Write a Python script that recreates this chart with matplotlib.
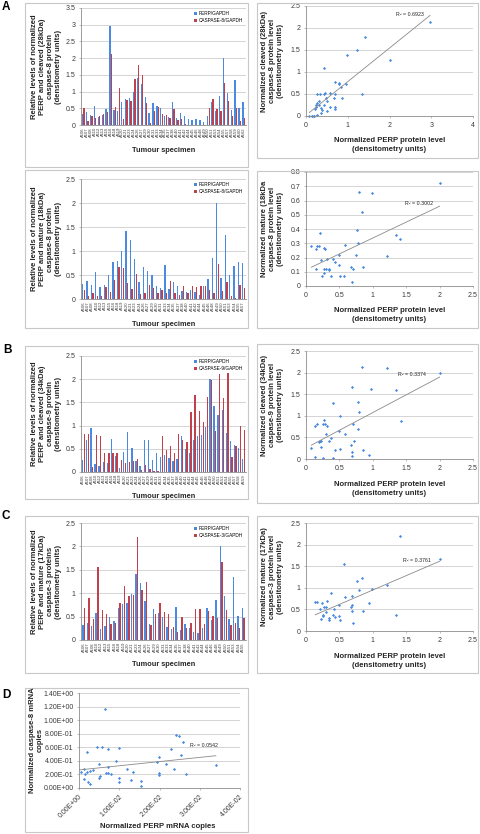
import numpy as np
import matplotlib
matplotlib.use('Agg')
import matplotlib.pyplot as plt
from matplotlib.patches import Rectangle
from matplotlib.ticker import MultipleLocator, FuncFormatter

plt.rcParams['font.family'] = ['Liberation Sans', 'DejaVu Sans']

W, H = 480, 834
BLUE = '#4a8ae0'
RED = '#c0404c'
GRID = '#c4c4c4'
TXT = '#262626'
LBL = 5.5

# ---- data ----
specimens = ['A106', 'A107', 'A108', 'A110', 'A112', 'A113', 'A115', 'A116', 'A118', 'A119',
             'A120', 'A121', 'A123', 'A124', 'A126', 'A127', 'A129', 'A130', 'A131', 'A133',
             'A134', 'A135', 'A137', 'A138', 'A140', 'A141', 'A142', 'A144', 'A145', 'A146',
             'A148', 'A149', 'A150', 'A151', 'A153', 'A154', 'A155', 'A157', 'A158', 'A159',
             'A160', 'A162']

# A (top): PERP vs cleaved 28kDa caspase-8
perp_a1 = [0.33, 0.38, 0.30, 0.57, 0.24, 0.30, 0.49, 2.97, 0.45, 0.42, 0.69, 0.78, 0.80, 0.99,
           1.41, 1.22, 0.84, 0.35, 0.67, 0.58, 0.50, 0.27, 0.23, 0.70, 0.21, 0.35, 0.27, 0.18,
           0.15, 0.19, 0.15, 0.08, 0.27, 0.69, 0.42, 0.86, 2.00, 0.95, 0.44, 1.35, 0.50, 0.70]
casp8_cleaved = [0.50, 0.13, 0.26, 0.21, 0.26, 0.33, 0.40, 2.13, 0.53, 1.10, 0.17, 0.76, 0.72, 1.38,
                 1.79, 1.50, 0.65, 0.06, 0.41, 0.53, 0.33, 0.30, 0.20, 0.49, 0.15, 0.19, 0.03, 0.00,
                 0.00, 0.00, 0.00, 0.00, 0.50, 0.77, 0.49, 0.42, 1.27, 0.72, 0.26, 0.50, 0.12, 0.20]

# A (bottom): PERP vs mature 18kDa caspase-8
perp_a2 = [0.32, 0.37, 0.30, 0.57, 0.24, 0.29, 0.49, 0.77, 0.79, 0.99, 1.41, 1.22, 0.84, 0.35,
           0.67, 0.58, 0.50, 0.27, 0.23, 0.70, 0.21, 0.35, 0.27, 0.17, 0.15, 0.19, 0.15, 0.08,
           0.27, 0.41, 0.85, 2.00, 0.44, 1.34, 0.51, 0.69, 0.78, 0.75]
casp8_mature = [0.19, 0.07, 0.12, 0.07, 0.07, 0.26, 0.15, 0.39, 0.66, 0.65, 0.33, 0.21, 0.52, 0.11,
                0.13, 0.29, 0.22, 0.12, 0.18, 0.12, 0.37, 0.12, 0.09, 0.28, 0.12, 0.28, 0.26, 0.28,
                0.27, 0.19, 0.13, 0.72, 0.17, 0.36, 0.07, 0.03, 0.30, 0.22]

# B: PERP vs cleaved 34kDa caspase-9
perp_b = [0.25, 0.70, 0.95, 0.17, 0.13, 0.21, 0.19, 0.72, 0.35, 0.08, 0.44, 0.86, 0.51, 0.23,
          0.14, 0.69, 0.69, 0.26, 0.41, 0.32, 0.37, 0.30, 0.23, 0.29, 0.78, 0.49, 0.41, 0.69,
          0.78, 0.80, 0.98, 2.00, 1.42, 1.22, 1.34, 0.84, 0.67, 0.58, 0.51, 0.27]
casp9_cleaved = [0.82, 0.82, 0.10, 0.80, 0.77, 0.42, 0.40, 0.41, 0.42, 0.25, 0.20, 0.21, 0.23, 0.27,
                 0.05, 0.16, 0.07, 0.03, 0.02, 0.77, 0.48, 0.57, 0.42, 0.81, 0.69, 0.64, 1.29, 1.66,
                 1.31, 1.08, 1.62, 1.99, 0.88, 2.11, 1.59, 2.13, 0.33, 0.57, 0.99, 0.90]

# C: PERP vs mature 17kDa caspase-3
perp_c = [0.32, 0.37, 0.30, 0.57, 0.24, 0.30, 0.49, 0.41, 0.69, 0.77, 0.79, 0.99, 1.41, 1.22,
          0.84, 0.34, 0.67, 0.58, 0.50, 0.27, 0.23, 0.70, 0.21, 0.34, 0.26, 0.17, 0.14, 0.26,
          0.69, 0.42, 0.85, 2.00, 0.94, 0.44, 1.34, 0.51, 0.69]
casp3_mature = [0.69, 0.89, 0.45, 1.56, 0.65, 0.55, 0.35, 0.37, 0.80, 1.16, 0.95, 0.97, 2.20, 1.07,
                1.23, 0.31, 0.56, 0.78, 0.60, 0.56, 0.27, 0.18, 0.50, 0.25, 0.37, 0.67, 0.67, 0.34,
                0.61, 0.51, 0.47, 1.67, 0.65, 0.33, 0.37, 0.26, 0.47]

# D: mRNA copies
perp_mrna = [0.0004, 0.0013, 0.0015, 0.0013, 0.0019, 0.0020, 0.0023, 0.0028, 0.0028, 0.0036,
             0.0044, 0.0049, 0.0050, 0.0053, 0.0058, 0.0065, 0.0068, 0.0071, 0.0072, 0.0073,
             0.0079, 0.0092, 0.0100, 0.0100, 0.0100, 0.0119, 0.0128, 0.0133, 0.0153, 0.0153,
             0.0194, 0.0198, 0.0198, 0.0198, 0.0217, 0.0228, 0.0236, 0.0242, 0.0249, 0.0253,
             0.0259, 0.0266, 0.0340]
casp8_mrna = [0.230, 0.275, 0.205, 0.130, 0.240, 0.525, 0.090, 0.065, 0.250, 0.265,
              0.600, 0.145, 0.355, 0.170, 0.600, 1.165, 0.215, 0.215, 0.575, 0.310,
              0.210, 0.405, 0.595, 0.150, 0.090, 0.275, 0.120, 0.235, 0.100, 0.025,
              0.380, 0.455, 0.215, 0.195, 0.350, 0.575, 0.280, 0.780, 0.770, 0.480,
              0.685, 0.200, 0.345]

r2_labels = ['R² = 0.6923', 'R² = 0.3002', 'R² = 0.3374', 'R² = 0.3761', 'R² = 0.0542']

fig = plt.figure(figsize=(W / 100, H / 100), dpi=100)


def axes_px(x0, y0, x1, y1):
    return fig.add_axes([x0 / W, 1 - y1 / H, (x1 - x0) / W, (y1 - y0) / H])


def frame(x0, y0, x1, y1):
    fig.patches.append(Rectangle((x0 / W, 1 - y1 / H), (x1 - x0) / W, (y1 - y0) / H,
                                 transform=fig.transFigure, fill=False, ec='#c8c8c8', lw=0.8))


def text_px(x, y, s, **kw):
    kw.setdefault('ha', 'center')
    kw.setdefault('va', 'center')
    fig.text(x / W, 1 - y / H, s, **kw)


def style(ax, ymax, ystep, fmt=lambda v, p: f'{v:g}'):
    ax.set_ylim(0, ymax)
    ax.yaxis.set_major_locator(MultipleLocator(ystep))
    ax.yaxis.set_major_formatter(FuncFormatter(fmt))
    ax.grid(axis='y', color=GRID, lw=0.5)
    ax.set_axisbelow(True)
    for s in ['top', 'right']:
        ax.spines[s].set_visible(False)
    for s in ['left', 'bottom']:
        ax.spines[s].set_color('#8c8c8c')
        ax.spines[s].set_linewidth(0.6)
    ax.tick_params(labelsize=5, labelcolor='#3a3a3a', color='#8c8c8c', length=1.5, width=0.4, pad=2.5)
    ax.patch.set_alpha(0)


def bar_panel(box, perp, casp, casp_name, ymax, ylabel, xlabel_y):
    ax = axes_px(*box)
    x = np.arange(len(perp))
    ax.bar(x - 0.19, perp, width=0.32, color=BLUE, label='PERP/GAPDH')
    ax.bar(x + 0.19, casp, width=0.32, color=RED, label=casp_name)
    ax.set_xlim(-0.6, len(perp) - 0.4)
    style(ax, ymax, 0.5)
    ax.set_xticks(x)
    ax.set_xticklabels(specimens[:len(perp)], rotation=90, fontsize=3.0)
    ax.tick_params(axis='x', length=0, pad=1.5)
    ax.legend(loc='upper right', fontsize=3.4, frameon=False, handlelength=0.5, handleheight=0.5,
              handletextpad=0.4, labelspacing=0.35, borderaxespad=0.3)
    x0, y0, x1, y1 = box
    text_px(46, (y0 + y1) / 2, ylabel, rotation=90, fontsize=LBL, fontweight='bold',
            linespacing=1.2, color=TXT)
    text_px((x0 + x1) / 2, xlabel_y, 'Tumour specimen', fontsize=5.3, fontweight='bold', color=TXT)
    return ax


def scatter_panel(box, x, y, xmax, xstep, ymax, ystep, r2, r2_pos, ylabel, xlabel_y):
    ax = axes_px(*box)
    x = np.asarray(x)
    y = np.asarray(y)
    ax.plot(x, y, 'D', ms=1.6, color=BLUE, mec='none', clip_on=False)
    slope, icpt = np.polyfit(x, y, 1)
    xs = np.array([x.min(), x.max()])
    ax.plot(xs, slope * xs + icpt, color='#8a8a8a', lw=0.6)
    ax.text(r2_pos[0], r2_pos[1], r2, fontsize=3.8, color=TXT)
    ax.set_xlim(0, xmax)
    ax.xaxis.set_major_locator(MultipleLocator(xstep))
    ax.xaxis.set_major_formatter(FuncFormatter(lambda v, p: f'{v:g}'))
    style(ax, ymax, ystep)
    x0, y0, x1, y1 = box
    text_px(272, (y0 + y1) / 2, ylabel, rotation=90, fontsize=LBL, fontweight='bold',
            linespacing=1.2, color=TXT)
    text_px((x0 + x1) / 2, xlabel_y, 'Normalized PERP protein level\n(densitometry units)',
            fontsize=LBL, fontweight='bold', linespacing=1.25, color=TXT)
    return ax


# chart frames
for fr in [(25, 3, 248, 167), (257, 3, 478, 158),
           (25, 170, 248, 328), (257, 171, 478, 328),
           (25, 346, 248, 499), (257, 344, 478, 503),
           (25, 516, 248, 673), (257, 516, 478, 673),
           (25, 688, 248, 832)]:
    frame(*fr)

# panel letters
for letter, (lx, ly) in zip('ABCD', [(6, 7), (7, 350), (6, 516), (6, 695)]):
    text_px(lx, ly, letter, fontsize=8.5, fontweight='bold', color='black')

# A
bar_panel((81, 8, 246, 125), perp_a1, casp8_cleaved, 'CASPASE-8/GAPDH', 3.5,
          'Relative levels of normalized\nPERP and cleaved (28kDa)\ncaspase-8 protein\n(densitometry units)', 150)
scatter_panel((306, 6, 473, 116), perp_a1, casp8_cleaved, 4, 1, 2.5, 0.5, r2_labels[0], (2.15, 2.27),
              'Normalized cleaved (28kDa)\ncaspase-8 protein level\n(densitometry units)', 145)

bar_panel((81, 179, 246, 299), perp_a2, casp8_mature, 'CASPASE-8/GAPDH', 2.5,
          'Relative levels of normalized\nPERP and mature (18kDa)\ncaspase-8 protein\n(densitometry units)', 324)
scatter_panel((306, 172, 473, 286), perp_a2, casp8_mature, 2.5, 0.5, 0.8, 0.1, r2_labels[1], (1.48, 0.57),
              'Normalized mature (18kDa\ncaspase-8 protein level\n(densitometry units)', 315)

# B
bar_panel((81, 356, 246, 472), perp_b, casp9_cleaved, 'CASPASE-9/GAPDH', 2.5,
          'Relative levels of normalized\nPERP and cleaved (34kDa)\ncaspase-9 protein\n(densitometry units)', 497)
scatter_panel((306, 351, 473, 459), perp_b, casp9_cleaved, 2.5, 0.5, 2.5, 0.5, r2_labels[2], (1.38, 1.93),
              'Normalized cleaved (34kDa)\ncaspase-9 protein level\n(densitometry units)', 489)

# C
bar_panel((81, 523, 246, 640), perp_c, casp3_mature, 'CASPASE-3/GAPDH', 2.5,
          'Relative levels of normalized\nPERP and mature (17kDa)\ncaspase-3 proteins\n(densitometry units)', 664)
scatter_panel((306, 523, 473, 631), perp_c, casp3_mature, 2.5, 0.5, 2.5, 0.5, r2_labels[3], (1.45, 1.6),
              'Normalized mature (17kDa)\ncaspase-3 protein level\n(densitometry units)', 661)

# D
axd = axes_px(79, 693, 240, 788)
xd = np.asarray(perp_mrna)
yd = np.asarray(casp8_mrna)
axd.plot(xd, yd, 'D', ms=1.6, color=BLUE, mec='none', clip_on=False)
sl, ic = np.polyfit(xd, yd, 1)
xs = np.array([0.0, xd.max()])
axd.plot(xs, sl * xs + ic, color='#8a8a8a', lw=0.6)
axd.text(0.0275, 0.6, r2_labels[4], fontsize=3.8, color=TXT)
axd.set_xlim(0, 0.04)
axd.xaxis.set_major_locator(MultipleLocator(0.01))
axd.xaxis.set_major_formatter(FuncFormatter(lambda v, p: f'{v:.2E}'))
style(axd, 1.4, 0.2, fmt=lambda v, p: f'{v:.2E}')
for lab in axd.get_xticklabels():
    lab.set_rotation(45)
    lab.set_ha('right')
    lab.set_rotation_mode('anchor')
text_px(36, 740, 'Normalized caspase-8 mRNA\ncopies', rotation=90, fontsize=LBL, fontweight='bold',
        linespacing=1.2, color=TXT)
text_px(158, 826, 'Normalized PERP mRNA copies', fontsize=LBL, fontweight='bold', color=TXT)

fig.savefig('out.png', dpi=100)
